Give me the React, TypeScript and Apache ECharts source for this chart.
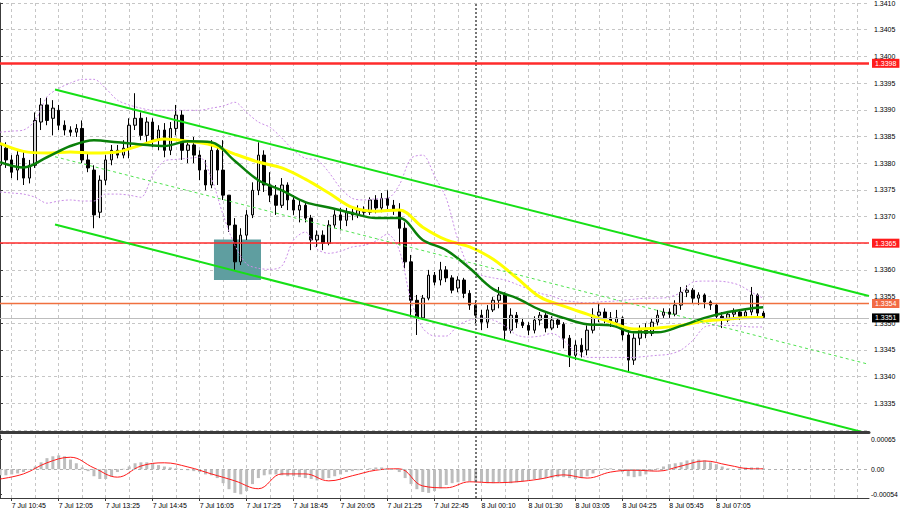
import React, { useEffect, useRef } from "react";
import * as echarts from "echarts";

// ---------- time axis ----------
const TICK_LABELS = [
  "7 Jul 10:45", "7 Jul 12:05", "7 Jul 13:25", "7 Jul 14:45", "7 Jul 16:05",
  "7 Jul 17:25", "7 Jul 18:45", "7 Jul 20:05", "7 Jul 21:25", "7 Jul 22:45",
  "8 Jul 00:10", "8 Jul 01:30", "8 Jul 03:05", "8 Jul 04:25", "8 Jul 05:45", "8 Jul 07:05",
];
const SLOT_COUNT = 149; // bar slots incl. empty right shift
const FIRST_TICK = 2;
const TICK_EVERY = 8;
const GRID_EVERY = 4;
const DAY_BREAK = 81.06; // bar index of the day separator

// ---------- price candles [open, close, low, high] ----------
const CANDLES = [
  [1.33796, 1.33834, 1.33783, 1.33843], [1.33828, 1.33806, 1.33791, 1.33839], [1.33806, 1.33783, 1.33772, 1.33815],
  [1.33787, 1.33815, 1.33768, 1.33824], [1.33809, 1.33772, 1.33759, 1.33821], [1.33772, 1.33796, 1.33762, 1.33806],
  [1.33796, 1.3388, 1.33791, 1.33895], [1.33877, 1.33909, 1.33862, 1.33922], [1.33909, 1.3388, 1.33871, 1.33924],
  [1.33884, 1.33903, 1.33852, 1.33918], [1.33899, 1.33871, 1.33862, 1.33909], [1.33871, 1.33862, 1.33852, 1.3388],
  [1.33862, 1.33858, 1.3385, 1.33869], [1.33858, 1.33865, 1.33849, 1.33873], [1.33865, 1.33806, 1.338, 1.3388],
  [1.33806, 1.33791, 1.33783, 1.33819], [1.33787, 1.33703, 1.33678, 1.33796], [1.33708, 1.33768, 1.33697, 1.33777],
  [1.33768, 1.33806, 1.33759, 1.33815], [1.33806, 1.33824, 1.33796, 1.33834], [1.33824, 1.33815, 1.33809, 1.33834],
  [1.33815, 1.33828, 1.33809, 1.33843], [1.33828, 1.33871, 1.33809, 1.33884], [1.33871, 1.33884, 1.33862, 1.33931],
  [1.33884, 1.33852, 1.33843, 1.33895], [1.33852, 1.33877, 1.33834, 1.33886], [1.33877, 1.33843, 1.3383, 1.33884],
  [1.33843, 1.33862, 1.33824, 1.33871], [1.33862, 1.33824, 1.33811, 1.33875], [1.33824, 1.33865, 1.33815, 1.33877],
  [1.33865, 1.3389, 1.33852, 1.33909], [1.3389, 1.33824, 1.33806, 1.33899], [1.33824, 1.33834, 1.338, 1.33843],
  [1.33834, 1.33815, 1.338, 1.33849], [1.33815, 1.33787, 1.33768, 1.33824], [1.33787, 1.33759, 1.33749, 1.33806],
  [1.33759, 1.33824, 1.33753, 1.33843], [1.33824, 1.33787, 1.33759, 1.33834], [1.33787, 1.3374, 1.33731, 1.33843],
  [1.3374, 1.33684, 1.33671, 1.3374], [1.33684, 1.33615, 1.336, 1.33697], [1.33615, 1.33665, 1.33609, 1.33678],
  [1.33665, 1.33703, 1.33656, 1.33712], [1.33703, 1.33749, 1.33697, 1.33764], [1.33749, 1.33815, 1.3374, 1.33839],
  [1.33815, 1.33759, 1.33746, 1.33824], [1.33759, 1.3374, 1.33727, 1.33783], [1.3374, 1.33721, 1.33703, 1.33759],
  [1.33721, 1.33759, 1.33716, 1.33772], [1.33759, 1.33731, 1.33712, 1.33764], [1.33731, 1.33712, 1.33703, 1.3374],
  [1.33712, 1.33721, 1.33689, 1.33731], [1.33721, 1.33697, 1.33689, 1.33727], [1.33697, 1.33656, 1.33637, 1.33703],
  [1.33656, 1.33665, 1.33643, 1.33674], [1.33665, 1.3365, 1.33637, 1.33674], [1.3365, 1.33684, 1.33646, 1.33693],
  [1.33684, 1.33703, 1.33678, 1.33712], [1.33703, 1.33693, 1.33674, 1.33716], [1.33693, 1.33708, 1.33682, 1.33716],
  [1.33708, 1.33703, 1.33693, 1.33716], [1.33703, 1.33712, 1.33697, 1.33721], [1.33712, 1.33708, 1.33703, 1.33719],
  [1.33708, 1.33731, 1.33703, 1.33736], [1.33731, 1.33716, 1.33706, 1.3374], [1.33716, 1.33734, 1.33708, 1.33744],
  [1.33734, 1.33721, 1.33712, 1.33749], [1.33721, 1.33712, 1.33703, 1.33731], [1.33712, 1.33678, 1.33646, 1.33725],
  [1.33678, 1.33615, 1.33603, 1.33689], [1.33615, 1.33543, 1.33511, 1.33628], [1.33543, 1.3351, 1.33478, 1.33553],
  [1.3351, 1.33547, 1.33506, 1.33553], [1.33547, 1.3359, 1.33543, 1.336], [1.3359, 1.33577, 1.33571, 1.33596],
  [1.33581, 1.336, 1.33571, 1.33615], [1.336, 1.33585, 1.33577, 1.33607], [1.33585, 1.33562, 1.33556, 1.3359],
  [1.33566, 1.33581, 1.33558, 1.33588], [1.33581, 1.33556, 1.33547, 1.33585], [1.33556, 1.33534, 1.33525, 1.33562],
  [1.33534, 1.33515, 1.335, 1.33543], [1.33515, 1.33502, 1.33487, 1.33525], [1.33502, 1.33525, 1.33491, 1.33534],
  [1.33525, 1.33543, 1.33521, 1.33549], [1.33543, 1.33553, 1.33528, 1.33568], [1.33553, 1.33487, 1.33468, 1.33558],
  [1.33487, 1.33515, 1.33481, 1.33528], [1.33515, 1.33502, 1.33491, 1.33521], [1.33502, 1.33496, 1.33491, 1.3351],
  [1.33496, 1.33487, 1.33478, 1.33502], [1.33487, 1.33506, 1.33481, 1.33513], [1.33506, 1.33515, 1.33496, 1.33521],
  [1.33515, 1.33491, 1.33483, 1.33519], [1.33491, 1.33506, 1.33487, 1.33513], [1.33506, 1.33498, 1.33491, 1.3351],
  [1.33498, 1.33472, 1.33453, 1.33502], [1.33472, 1.3344, 1.33418, 1.33478], [1.3344, 1.33459, 1.33431, 1.33468],
  [1.33459, 1.33446, 1.33436, 1.33472], [1.3345, 1.33487, 1.3344, 1.33496], [1.33487, 1.33515, 1.33481, 1.33528],
  [1.33515, 1.33521, 1.33502, 1.33538], [1.33521, 1.3351, 1.335, 1.33528], [1.3351, 1.33502, 1.33493, 1.33521],
  [1.33502, 1.3351, 1.33493, 1.33525], [1.3351, 1.33478, 1.33468, 1.33513], [1.33478, 1.33431, 1.33408, 1.33487],
  [1.33431, 1.33472, 1.33422, 1.33481], [1.33472, 1.33487, 1.33459, 1.33496], [1.33487, 1.33481, 1.33472, 1.335],
  [1.33481, 1.33502, 1.33476, 1.3351], [1.33502, 1.33515, 1.33496, 1.33525], [1.33515, 1.33521, 1.3351, 1.33528],
  [1.33521, 1.33517, 1.3351, 1.33528], [1.33517, 1.33534, 1.33513, 1.33543], [1.33534, 1.33558, 1.33525, 1.33568],
  [1.33558, 1.33562, 1.33549, 1.33571], [1.33562, 1.33547, 1.33538, 1.33566], [1.33547, 1.33553, 1.33534, 1.33558],
  [1.33553, 1.3354, 1.33528, 1.33556], [1.3354, 1.33534, 1.33525, 1.33543], [1.33534, 1.33513, 1.33506, 1.33538],
  [1.33513, 1.33506, 1.33491, 1.33521], [1.33506, 1.33517, 1.33502, 1.33523], [1.33517, 1.33521, 1.33506, 1.33528],
  [1.33521, 1.33513, 1.33506, 1.33525], [1.33513, 1.33521, 1.3351, 1.33528], [1.33521, 1.33553, 1.33515, 1.33568],
  [1.33553, 1.33519, 1.33513, 1.33556], [1.33519, 1.33511, 1.33508, 1.33523],
];

// ---------- moving averages (read every 4 bars) ----------
const MA_X = [0, 4, 8, 12, 16, 20, 24, 28, 32, 36, 40, 44, 48, 52, 56, 60, 64, 68, 72, 76, 80, 84, 88, 92, 96, 100, 104, 108, 112, 116, 120, 124, 128, 130];
const MA_GREEN = [1.33802, 1.33792, 1.33811, 1.33832, 1.33843, 1.33839, 1.33835, 1.33832, 1.33841, 1.33839, 1.33804, 1.33768, 1.33749, 1.33727, 1.33717, 1.33706, 1.33697, 1.33697, 1.33656, 1.33637, 1.33603, 1.33564, 1.33547, 1.33525, 1.3351, 1.33498, 1.33496, 1.33483, 1.33483, 1.33495, 1.3351, 1.33521, 1.33528, 1.3353];
const MA_YELLOW = [1.33837, 1.33822, 1.33819, 1.33821, 1.33819, 1.33821, 1.33834, 1.33845, 1.33841, 1.33834, 1.33817, 1.33802, 1.33791, 1.3377, 1.33744, 1.33717, 1.3371, 1.33712, 1.3368, 1.33656, 1.33643, 1.3362, 1.33585, 1.33549, 1.33532, 1.33517, 1.33502, 1.33489, 1.33491, 1.33496, 1.33504, 1.33508, 1.33511, 1.33511];

// ---------- Bollinger bands (read every 2 bars) ----------
const BB_X = [0, 2, 4, 6, 8, 10, 12, 14, 16, 18, 20, 22, 24, 26, 28, 30, 32, 34, 36, 38, 40, 42, 44, 46, 48, 50, 52, 54, 56, 58, 60, 62, 64, 66, 68, 70, 72, 74, 76, 78, 80, 82, 84, 86, 88, 90, 92, 94, 96, 98, 100, 102, 104, 106, 108, 110, 112, 114, 116, 118, 120, 122, 124, 126, 128, 130];
const BB_UPPER = [1.33858, 1.3386, 1.33862, 1.3388, 1.33924, 1.3394, 1.3395, 1.33957, 1.33957, 1.3394, 1.33918, 1.33909, 1.33903, 1.33899, 1.33899, 1.33899, 1.33899, 1.33899, 1.33903, 1.33907, 1.33914, 1.33895, 1.33877, 1.33867, 1.33847, 1.33824, 1.33809, 1.33806, 1.33783, 1.33753, 1.33734, 1.33731, 1.33733, 1.33734, 1.33759, 1.33809, 1.33815, 1.33776, 1.33734, 1.33656, 1.33603, 1.3359, 1.33585, 1.33581, 1.33573, 1.33564, 1.33556, 1.33551, 1.33543, 1.3354, 1.33538, 1.3354, 1.33541, 1.33543, 1.33545, 1.33547, 1.33547, 1.33549, 1.33558, 1.33577, 1.33579, 1.33579, 1.33577, 1.33571, 1.33558, 1.33547];
const BB_LOWER = [1.33746, 1.33744, 1.33742, 1.33736, 1.33725, 1.33729, 1.33731, 1.33729, 1.33729, 1.33742, 1.33742, 1.3374, 1.33736, 1.33777, 1.33804, 1.33807, 1.33809, 1.33811, 1.33772, 1.33703, 1.33646, 1.33611, 1.33603, 1.33601, 1.33607, 1.33656, 1.33671, 1.33639, 1.33631, 1.33635, 1.33643, 1.33646, 1.33654, 1.33667, 1.33637, 1.33543, 1.33491, 1.33476, 1.33476, 1.33496, 1.33506, 1.3351, 1.33506, 1.33495, 1.33478, 1.33474, 1.33476, 1.33481, 1.33468, 1.33446, 1.33436, 1.33436, 1.33436, 1.33436, 1.33436, 1.33438, 1.3344, 1.33442, 1.3345, 1.33468, 1.33493, 1.33496, 1.33496, 1.33495, 1.33493, 1.33493];

// ---------- drawn objects: [bar index, price] ----------
const CHANNEL_UPPER = [[9.37, 1.33938], [148, 1.33551]];
const CHANNEL_MIDDLE = [[9.37, 1.33812], [148, 1.33423]];
const CHANNEL_LOWER = [[9.37, 1.33685], [148, 1.33293]];
const ZONE = [[36.44, 1.33657, 44.45, 1.33581]]; // [from, top, to, bottom]
const LEVEL_VALUES = [1.33987, 1.3365, 1.33537, 1.3351];
const LEVEL_TAGS = ["1.3398", "1.3365", "1.3354", "1.3351"];

// ---------- MACD ----------
const MACD_HIST = [
  -0.00013, -0.00013, -0.00011, -0.00009, -0.00006, -0.00001, 0.00006, 0.00015, 0.00024, 0.00028,
  0.0003, 0.00028, 0.00021, 0.00013, 0.00004, -0.00004, -0.00015, -0.00021, -0.00021, -0.00015,
  -0.00006, 0.00001, 0.00006, 0.00013, 0.00015, 0.00015, 0.00013, 0.00009, 0.00006, 0.00004,
  0.00002, 0.0, -0.00002, -0.00004, -0.00006, -0.00011, -0.00013, -0.00019, -0.0003, -0.00043,
  -0.00051, -0.00054, -0.00047, -0.00032, -0.00019, -0.00013, -0.00011, -0.00011, -0.00013, -0.00015,
  -0.00015, -0.00017, -0.00019, -0.00021, -0.00024, -0.00021, -0.00019, -0.00015, -0.00011, -0.00006,
  -0.00004, -0.00002, 0.0, 0.00002, 0.00004, 0.00004, 0.00002, 0.0, -0.00006, -0.00019,
  -0.00032, -0.00043, -0.00049, -0.00051, -0.00047, -0.00041, -0.00034, -0.0003, -0.00028, -0.00026,
  -0.00026, -0.00028, -0.00028, -0.0003, -0.0003, -0.00028, -0.00028, -0.0003, -0.00028, -0.00026,
  -0.00024, -0.00021, -0.00021, -0.00019, -0.00019, -0.00017, -0.00017, -0.00019, -0.00021, -0.00019,
  -0.00015, -0.00009, -0.00002, 0.00002, 0.00002, 0.0, -0.00006, -0.00015, -0.00017, -0.00015,
  -0.00011, -0.00004, 0.00002, 0.00006, 0.00011, 0.00013, 0.00015, 0.00019, 0.00021, 0.00021,
  0.00019, 0.00015, 0.00011, 0.00006, 0.00002, 0.0, 0.00002, 0.00004, 0.00004, 0.00004,
  0.00002,
];
const MACD_SIGNAL = [-0.00021, -0.0001, 0.00014, 0.00026, 0.00003, -0.00017, 0.00007, 0.00014, 0.00005, -0.0001, -0.00025, -0.00042, -0.0001, -0.0001, -0.00025, -0.00014, -0.00002, 0.00001, -0.00036, -0.0004, -0.00027, -0.00029, -0.00027, -0.00021, -0.00012, -0.00019, -0.00006, -0.00002, -0.00004, 0.00007, 0.00018, 0.00009, 0.00001, 0.00001];
const MACD_LABELS = [-0.00054, 0, 0.00065];

const FONT = "'Liberation Sans', Arial, sans-serif";
const GRID_LINE = { color: "#c6c6c6", type: [3, 3] as any, width: 1 };

function labelIndex(i: number): number {
  const k = (i - FIRST_TICK) / TICK_EVERY;
  return Number.isInteger(k) && k >= 0 && k < TICK_LABELS.length ? k : -1;
}
const CATEGORIES = Array.from({ length: SLOT_COUNT }, (_, i) => {
  const k = labelIndex(i);
  return k >= 0 ? TICK_LABELS[k] : `bar ${i}`;
});
const isGridIdx = (i: number) => (i - FIRST_TICK) % GRID_EVERY === 0;
const isLabelIdx = (i: number) => labelIndex(i) >= 0;

function overlay(xs: number[], ys: number[], color: string, width: number, type: any, z: number, smooth: number | boolean = 0.35, extra: any = {}) {
  return {
    type: "line",
    xAxisIndex: 2,
    yAxisIndex: 0,
    data: xs.map((x, k) => [x, ys[k]]),
    showSymbol: false,
    symbol: "none",
    smooth,
    z,
    silent: true,
    lineStyle: { color, width, type },
    emphasis: { disabled: true },
    ...extra,
  };
}

const LEVEL_STYLE = [
  { line: "#ff2b2b", width: 2.5, tag: "#ff1c1c" },
  { line: "#ff2b2b", width: 1.5, tag: "#ff1c1c" },
  { line: "#f0703f", width: 1.3, tag: "#f26a44" },
  { line: "#bdbdbd", width: 1, tag: "#000000" },
];

export default function App() {
  const ref = useRef<HTMLDivElement>(null);
  useEffect(() => {
    document.body.style.margin = "0";
    if (!ref.current) return;
    const chart = echarts.init(ref.current, null, { renderer: "svg" });
    const option: any = {
      animation: false,
      backgroundColor: "#ffffff",
      textStyle: { fontFamily: FONT },
      grid: [
        { left: 0, right: 31, top: 3, height: 427, outerBoundsMode: "none" },
        { left: 0, right: 31, top: 435, height: 63, outerBoundsMode: "none" },
      ],
      xAxis: [
        {
          type: "category", gridIndex: 0, data: CATEGORIES, boundaryGap: false, offset: 2,
          axisLine: { show: true, onZero: false, lineStyle: { color: "#3c3c3c", width: 3 } },
          axisTick: { show: false }, axisLabel: { show: false },
          splitLine: { show: true, interval: (i: number) => isGridIdx(i), lineStyle: GRID_LINE },
        },
        {
          type: "category", gridIndex: 1, data: CATEGORIES, boundaryGap: false,
          axisLine: { show: true, onZero: false, lineStyle: { color: "#3c3c3c", width: 1 } },
          axisTick: { show: true, interval: (i: number) => isLabelIdx(i), length: 3, lineStyle: { color: "#3c3c3c" } },
          axisLabel: {
            show: true, interval: (i: number) => isLabelIdx(i), align: "left", margin: 4,
            fontSize: 7, color: "#000", fontFamily: FONT,
          },
          splitLine: { show: true, interval: (i: number) => isGridIdx(i), lineStyle: GRID_LINE },
        },
        { type: "value", gridIndex: 0, min: 0, max: SLOT_COUNT - 1, show: false },
        { type: "value", gridIndex: 1, min: 0, max: SLOT_COUNT - 1, show: false },
      ],
      yAxis: [
        {
          type: "value", gridIndex: 0, position: "right", min: 1.333, max: 1.341, interval: 0.0005,
          axisLine: { show: true, lineStyle: { color: "#3c3c3c" } },
          axisTick: { show: true, length: 3, lineStyle: { color: "#3c3c3c" } },
          axisLabel: {
            color: "#000", fontSize: 7, fontFamily: FONT, margin: 5, showMinLabel: false,
            formatter: (v: number) => v.toFixed(4),
          },
          splitLine: { show: true, lineStyle: GRID_LINE },
        },
        {
          type: "value", gridIndex: 1, position: "right", min: -0.00062, max: 0.00074,
          axisLine: { show: true, lineStyle: { color: "#3c3c3c" } },
          axisTick: { show: true, length: 2, customValues: MACD_LABELS, lineStyle: { color: "#3c3c3c" } },
          axisLabel: {
            color: "#000", fontSize: 6.8, fontFamily: FONT, margin: 2, customValues: MACD_LABELS,
            formatter: (v: number) => (Math.abs(v) < 1e-9 ? "0.00" : v.toFixed(5)),
          },
          splitLine: { show: false },
        },
      ],
      series: [
        {
          type: "custom", xAxisIndex: 2, yAxisIndex: 0, z: 1, silent: true, data: ZONE,
          renderItem: (_p: any, api: any) => {
            const a = api.coord([api.value(0), api.value(1)]);
            const b = api.coord([api.value(2), api.value(3)]);
            return { type: "rect", shape: { x: a[0], y: a[1], width: b[0] - a[0], height: b[1] - a[1] }, style: { fill: "#5f9ea0" } };
          },
        },
        {
          type: "candlestick", xAxisIndex: 0, yAxisIndex: 0, data: CANDLES, barWidth: 3, z: 2, silent: true,
          itemStyle: { color: "#d4d4d4", color0: "#000000", borderColor: "#000000", borderColor0: "#000000", borderWidth: 1 },
        },
        overlay(BB_X, BB_UPPER, "#c98de6", 1, [2, 2], 3, 0.3, {
          markLine: {
            silent: true, symbol: ["none", "none"], label: { show: false }, precision: 5,
            lineStyle: { color: "#4a4a4a", type: [2, 2], width: 1.5 },
            data: [{ xAxis: DAY_BREAK }],
          },
        }),
        overlay(BB_X, BB_LOWER, "#c98de6", 1, [2, 2], 3, 0.3),
        overlay(MA_X, MA_YELLOW, "#ffff00", 3, "solid", 4),
        overlay(MA_X, MA_GREEN, "#0a800a", 2.5, "solid", 5),
        overlay([CHANNEL_UPPER[0][0], CHANNEL_UPPER[1][0]], [CHANNEL_UPPER[0][1], CHANNEL_UPPER[1][1]], "#16e016", 2, "solid", 6, false),
        overlay([CHANNEL_MIDDLE[0][0], CHANNEL_MIDDLE[1][0]], [CHANNEL_MIDDLE[0][1], CHANNEL_MIDDLE[1][1]], "#4fe24f", 1, [3, 3], 6, false),
        overlay([CHANNEL_LOWER[0][0], CHANNEL_LOWER[1][0]], [CHANNEL_LOWER[0][1], CHANNEL_LOWER[1][1]], "#16e016", 2, "solid", 6, false, {
          markLine: {
            silent: true, symbol: ["none", "none"], precision: 6,
            data: LEVEL_VALUES.map((v, k) => ({
              yAxis: v,
              lineStyle: { color: LEVEL_STYLE[k].line, width: LEVEL_STYLE[k].width, type: "solid" },
              label: {
                show: true, position: "end", distance: 3, formatter: LEVEL_TAGS[k],
                backgroundColor: LEVEL_STYLE[k].tag, color: "#ffffff", fontSize: 7, fontFamily: FONT,
                padding: [1, 3, 1, 3],
              },
            })),
          },
        }),
        {
          type: "bar", xAxisIndex: 1, yAxisIndex: 1, data: MACD_HIST, barWidth: 3, silent: true, z: 2,
          itemStyle: { color: "#bdbdbd" },
          markLine: {
            silent: true, symbol: ["none", "none"], label: { show: false }, precision: 6,
            data: [
              { yAxis: 0, lineStyle: { color: "#b0b0b0", type: [3, 3], width: 1 } },
            ],
          },
        },
        {
          type: "line", xAxisIndex: 3, yAxisIndex: 1, data: MA_X.map((x, k) => [x, MACD_SIGNAL[k]]),
          showSymbol: false, symbol: "none", smooth: 0.4, silent: true, z: 3,
          lineStyle: { color: "#ff1a1a", width: 1 },
          markLine: {
            silent: true, symbol: ["none", "none"], label: { show: false }, precision: 5,
            lineStyle: { color: "#4a4a4a", type: [2, 2], width: 1.5 },
            data: [{ xAxis: DAY_BREAK }],
          },
        },
      ],
    };
    chart.setOption(option);
    return () => chart.dispose();
  }, []);
  return <div ref={ref} style={{ width: 900, height: 514 }} />;
}
